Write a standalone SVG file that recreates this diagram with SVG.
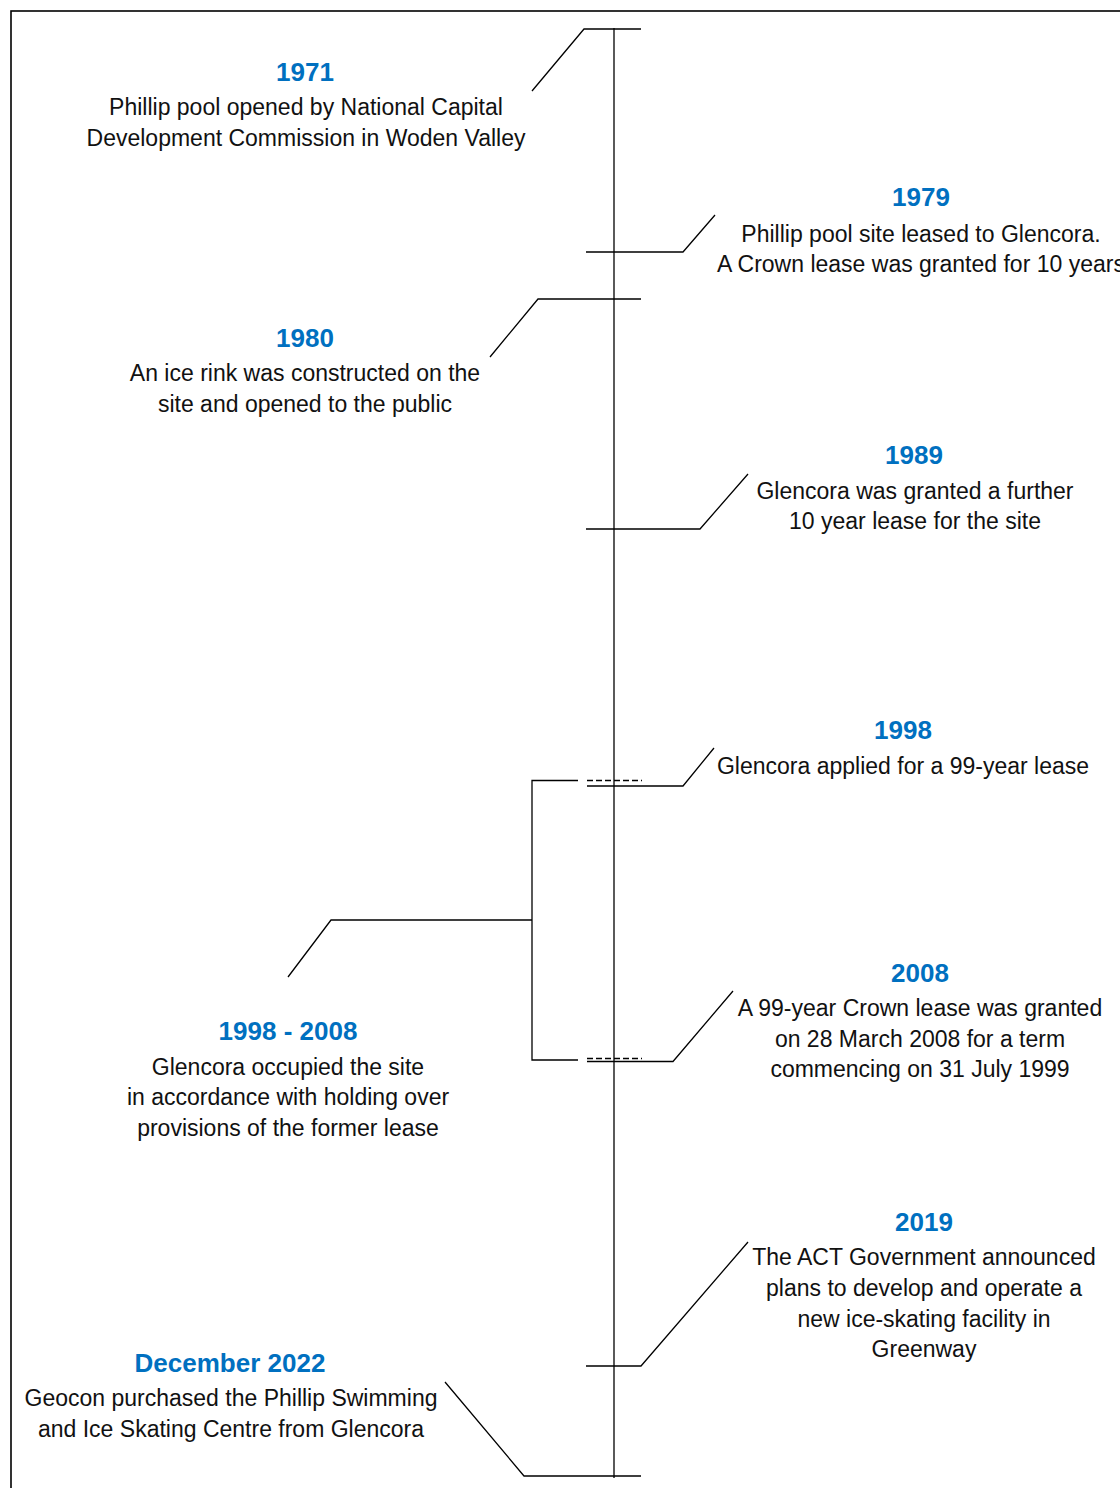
<svg xmlns="http://www.w3.org/2000/svg" width="1120" height="1488" viewBox="0 0 1120 1488">
<style>
.yr{font-family:"Liberation Sans",Arial,sans-serif;font-weight:bold;font-size:26px;fill:#0070C0;text-anchor:middle}
.tx{font-family:"Liberation Sans",Arial,sans-serif;font-size:23px;fill:#111;text-anchor:middle}
.ln{stroke:#000;stroke-width:1.3;fill:none}
.dash{stroke:#000;stroke-width:1.3;fill:none;stroke-dasharray:6 3}
</style>
<rect x="11" y="11" width="1120" height="1490" fill="#fff" stroke="#000" stroke-width="1.6"/>
<g id="connectors">
<line class="ln" x1="614" y1="28" x2="614" y2="1478"/>
<polyline class="ln" points="641,29 584,29 532,91"/>
<polyline class="ln" points="586,252 683,252 715,215"/>
<polyline class="ln" points="641,299 538,299 490,357"/>
<polyline class="ln" points="586,529 700,529 748,474"/>
<line class="dash" x1="587" y1="780.5" x2="642" y2="780.5"/>
<polyline class="ln" points="587,786 683,786 714,748"/>
<line class="dash" x1="587" y1="1058.5" x2="642" y2="1058.5"/>
<polyline class="ln" points="587,1061.5 673,1061.5 733,991"/>
<polyline class="ln" points="578,780.5 532,780.5 532,1060 578,1060"/>
<polyline class="ln" points="532,920 331,920 288,977"/>
<polyline class="ln" points="586,1366 641,1366 748,1242"/>
<polyline class="ln" points="641,1476 524,1476 445,1382"/>
</g>
<g id="n1971">
<text class="yr" x="305" y="81">1971</text>
<text class="tx" x="306" y="115">Phillip pool opened by National Capital</text>
<text class="tx" x="306" y="146">Development Commission in Woden Valley</text>
</g>
<g id="n1979">
<text class="yr" x="921" y="206">1979</text>
<text class="tx" x="921" y="242">Phillip pool site leased to Glencora.</text>
<text class="tx" x="921" y="272">A Crown lease was granted for 10 years</text>
</g>
<g id="n1980">
<text class="yr" x="305" y="347">1980</text>
<text class="tx" x="305" y="381">An ice rink was constructed on the</text>
<text class="tx" x="305" y="412">site and opened to the public</text>
</g>
<g id="n1989">
<text class="yr" x="914" y="464">1989</text>
<text class="tx" x="915" y="499">Glencora was granted a further</text>
<text class="tx" x="915" y="529">10 year lease for the site</text>
</g>
<g id="n1998">
<text class="yr" x="903" y="739">1998</text>
<text class="tx" x="903" y="774">Glencora applied for a 99-year lease</text>
</g>
<g id="n2008">
<text class="yr" x="920" y="982">2008</text>
<text class="tx" x="920" y="1016">A 99-year Crown lease was granted</text>
<text class="tx" x="920" y="1047">on 28 March 2008 for a term</text>
<text class="tx" x="920" y="1077">commencing on 31 July 1999</text>
</g>
<g id="n1998-2008">
<text class="yr" x="288" y="1040">1998 - 2008</text>
<text class="tx" x="288" y="1075">Glencora occupied the site</text>
<text class="tx" x="288" y="1105">in accordance with holding over</text>
<text class="tx" x="288" y="1136">provisions of the former lease</text>
</g>
<g id="n2019">
<text class="yr" x="924" y="1231">2019</text>
<text class="tx" x="924" y="1265">The ACT Government announced</text>
<text class="tx" x="924" y="1296">plans to develop and operate a</text>
<text class="tx" x="924" y="1327">new ice-skating facility in</text>
<text class="tx" x="924" y="1357">Greenway</text>
</g>
<g id="n2022">
<text class="yr" x="230" y="1372">December 2022</text>
<text class="tx" x="231" y="1406">Geocon purchased the Phillip Swimming</text>
<text class="tx" x="231" y="1437">and Ice Skating Centre from Glencora</text>
</g>
</svg>
